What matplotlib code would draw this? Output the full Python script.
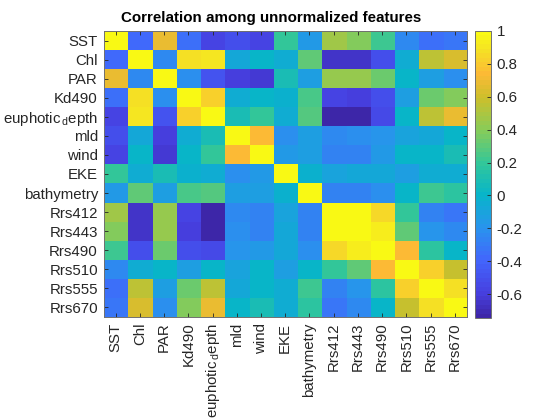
import numpy as np
from matplotlib import pyplot as plt
from matplotlib.colors import LinearSegmentedColormap

plt.rcParams["font.family"] = ["Liberation Sans", "DejaVu Sans"]
plt.rcParams["mathtext.fontset"] = "custom"
plt.rcParams["mathtext.rm"] = "Liberation Sans"

features = ["SST", "Chl", "PAR", "Kd490", "euphotic$_{\\,\\mathrm{d}}$epth", "mld", "wind", "EKE",
            "bathymetry", "Rrs412", "Rrs443", "Rrs490", "Rrs510", "Rrs555", "Rrs670"]

sst = [1, -.37, .68, -.35, -.58, -.5, -.58, .2, -.15, .48, .38, .22, -.25, -.36, -.32]
chl = [-.37, 1, -.25, .87, .9, -.07, 0, -.05, .3, -.65, -.65, -.5, -.05, .54, .63]
par = [.68, -.25, 1, -.22, -.48, -.6, -.62, .08, -.12, .43, .43, .33, 0, -.12, -.22]
kd490 = [-.35, .87, -.22, 1, .82, -.06, 0, -.03, .24, -.58, -.6, -.5, -.12, .33, .38]
euphotic = [-.58, .9, -.48, .82, 1, .08, .19, -.06, .27, -.72, -.72, -.55, 0, .54, .68]
mld = [-.5, -.07, -.6, -.06, .08, 1, .75, -.2, -.13, -.23, -.22, -.18, -.1, -.08, 0]
wind = [-.58, 0, -.62, 0, .19, .75, 1, -.17, -.14, -.28, -.27, -.15, 0, 0, .1]
eke = [.2, -.05, .08, -.03, -.06, -.2, -.17, 1, -.03, -.1, -.09, -.09, -.14, -.06, -.06]
bathymetry = [-.15, .3, -.12, .24, .27, -.13, -.14, -.03, 1, -.27, -.28, -.2, 0, .23, .18]
rrs412 = [.48, -.65, .43, -.58, -.72, -.23, -.28, -.1, -.27, 1, 1, .85, .2, -.27, -.33]
rrs443 = [.38, -.65, .43, -.6, -.72, -.22, -.27, -.09, -.28, 1, 1, .92, .3, -.18, -.23]
rrs490 = [.22, -.5, .33, -.5, -.55, -.18, -.15, -.09, -.2, .85, .92, 1, .75, .18, 0]
rrs510 = [-.25, -.05, 0, -.12, 0, -.1, 0, -.14, 0, .2, .3, .75, 1, .83, .58]
rrs555 = [-.36, .54, -.12, .33, .54, -.08, 0, -.06, .23, -.27, -.18, .18, .83, 1, .88]
rrs670 = [-.32, .63, -.22, .38, .68, 0, .1, -.06, .18, -.33, -.23, 0, .58, .88, 1]

corr = np.array([sst, chl, par, kd490, euphotic, mld, wind, eke, bathymetry,
                 rrs412, rrs443, rrs490, rrs510, rrs555, rrs670])

cbar_ticks = [-.6, -.4, -.2, 0, .2, .4, .6, .8, 1]
cbar_labels = ["-0.6", "-0.4", "-0.2", "0", "0.2", "0.4", "0.6", "0.8", "1"]

vmin, vmax = -.745, 1

# old matlab parula, roughly
stops = [(-.745, (.2422, .1504, .6603)), (-.6, (.277, .25, .88)), (-.4, (.26, .4, .99)),
         (-.2, (.16, .58, .93)), (0, (.03, .71, .79)), (.2, (.2, .78, .6)),
         (.4, (.53, .8, .35)), (.6, (.8, .75, .17)), (.75, (.99, .73, .21)),
         (.9, (.96, .89, .14)), (1, (.98, .98, .08))]
parula = LinearSegmentedColormap.from_list(
    "parula", [((v - vmin) / (vmax - vmin), c) for v, c in stops], N=64)

W, H = 560, 420
dark = "#262626"

f = plt.figure(figsize=(W / 100, H / 100), dpi=100)
ax1 = f.add_axes([103.5 / W, 1 - 317 / H, 363.5 / W, 286 / H])
im = ax1.imshow(corr, cmap=parula, vmin=vmin, vmax=vmax, aspect="auto", interpolation="nearest")

ax1.set_xticks(range(len(features)))
ax1.set_yticks(range(len(features)))
ax1.set_xticklabels(features, rotation=90, fontsize=10.8, color=dark)
ax1.set_yticklabels(features, fontsize=10.8, color=dark)
ax1.tick_params(direction="in", length=3, width=.6, color=dark, top=True, right=True)
ax1.tick_params(axis="y", pad=4)
ax1.tick_params(axis="x", pad=4)
for s in ax1.spines.values():
    s.set_color("#707070")
    s.set_linewidth(.7)
# title sits off centre in the reference, matlab centred it before the colorbar went in
ax1.set_title("Correlation among unnormalized features", fontsize=10.9, fontweight="bold",
              x=.4608, pad=6.5)

cax = f.add_axes([475 / W, 1 - 318 / H, 16 / W, 287 / H])
cb = f.colorbar(im, cax=cax, ticks=cbar_ticks)
cb.ax.set_yticklabels(cbar_labels, fontsize=10.8, color=dark)
cb.ax.tick_params(direction="in", length=3, width=.6, color=dark, pad=4)
cb.outline.set_edgecolor("#707070")
cb.outline.set_linewidth(.7)

plt.savefig("out.png", dpi=100)
